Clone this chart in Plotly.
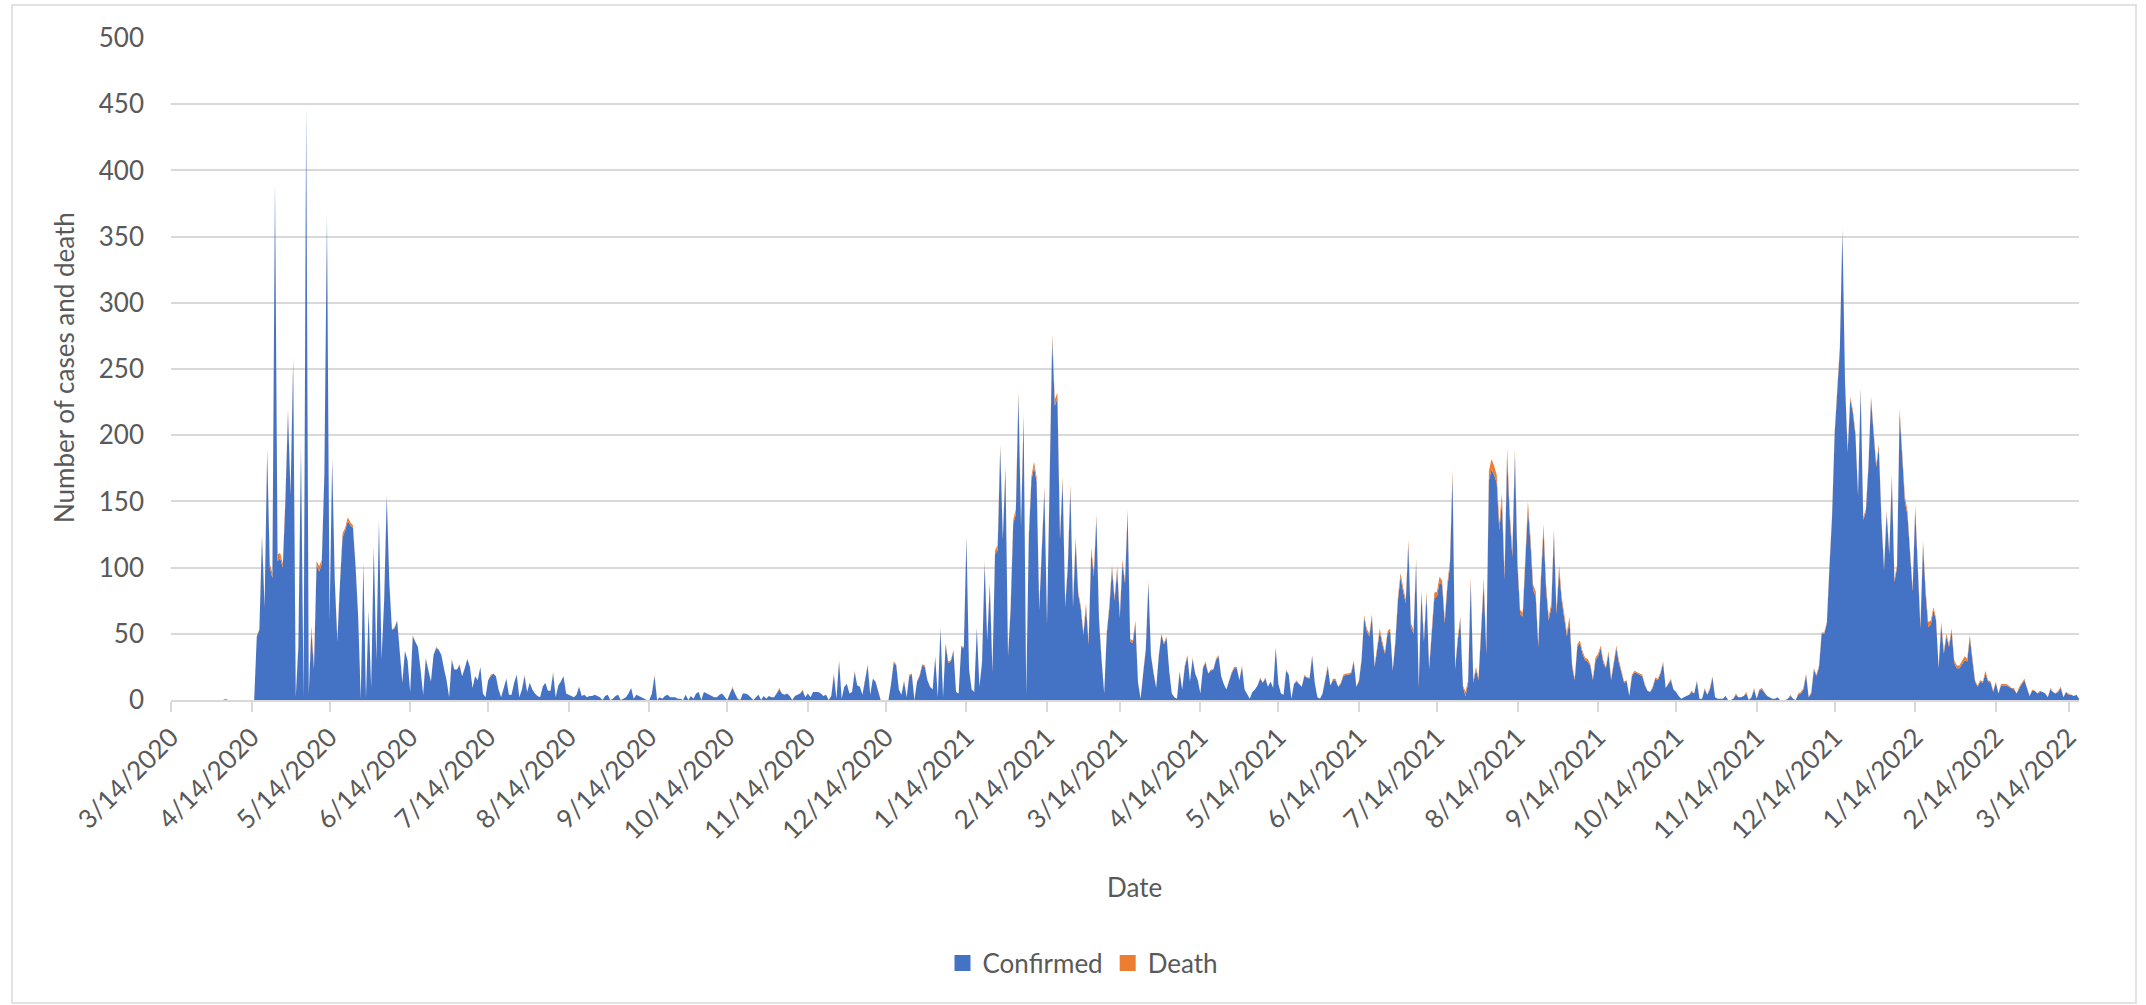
import plotly.graph_objects as go
import pandas as pd

start_date = "2020-03-14"

# Daily confirmed cases, one value per day from 3/14/2020
confirmed = [
    0, 0, 0, 0, 0, 0, 0, 0, 0, 0,
    0, 0, 0, 0, 0, 0, 0, 0, 0, 0,
    0, 0, 0, 0, 0, 0, 0, 0, 0, 0,
    0, 0, 0, 48, 53, 123, 70, 188, 100, 92,
    390, 105, 107, 100, 150, 217, 155, 256, 2, 40,
    191, 2, 448, 5, 52, 23, 102, 97, 103, 170,
    365, 60, 181, 90, 44, 88, 123, 128, 135, 132,
    130, 101, 63, 1, 103, 1, 67, 9, 115, 30,
    135, 31, 75, 154, 88, 53, 54, 60, 35, 13,
    37, 30, 6, 48, 44, 40, 23, 4, 31, 23,
    14, 34, 39, 38, 34, 24, 15, 2, 30, 23,
    23, 26, 18, 24, 31, 25, 9, 18, 15, 25,
    5, 2, 15, 18, 20, 18, 8, 2, 10, 16,
    4, 4, 13, 19, 2, 8, 18, 6, 13, 8,
    5, 3, 2, 10, 13, 7, 7, 20, 2, 11,
    14, 18, 5, 4, 3, 2, 4, 10, 3, 4,
    2, 3, 3, 4, 3, 2, 0, 3, 4, 0,
    1, 3, 4, 0, 1, 2, 5, 9, 1, 4,
    3, 2, 1, 0, 0, 5, 18, 0, 2, 1,
    3, 4, 2, 2, 2, 1, 1, 0, 4, 0,
    3, 1, 5, 6, 0, 6, 5, 4, 3, 2,
    2, 4, 5, 2, 0, 5, 9, 5, 1, 0,
    5, 5, 4, 2, 0, 2, 4, 0, 3, 1,
    3, 2, 2, 5, 8, 5, 4, 5, 3, 0,
    3, 4, 5, 7, 2, 5, 2, 6, 6, 6,
    5, 3, 4, 0, 3, 19, 1, 29, 1, 10,
    12, 5, 6, 21, 11, 10, 4, 14, 26, 4,
    16, 14, 6, 0, 0, 0, 0, 12, 28, 26,
    8, 4, 14, 2, 18, 19, 0, 14, 18, 26,
    25, 15, 10, 8, 32, 2, 54, 2, 42, 28,
    29, 37, 6, 5, 40, 39, 122, 23, 8, 6,
    54, 10, 28, 103, 45, 87, 21, 110, 113, 190,
    121, 174, 33, 68, 133, 140, 230, 131, 213, 4,
    123, 166, 176, 165, 68, 113, 157, 57, 160, 272,
    222, 228, 121, 165, 70, 100, 159, 70, 120, 80,
    69, 49, 70, 42, 112, 93, 137, 60, 30, 5,
    50, 70, 99, 75, 98, 62, 103, 88, 141, 44,
    43, 58, 13, 1, 20, 38, 88, 33, 20, 9,
    33, 49, 42, 47, 22, 5, 2, 1, 21, 8,
    25, 33, 14, 31, 20, 15, 5, 24, 28, 20,
    22, 23, 30, 33, 18, 12, 8, 14, 20, 24,
    24, 15, 25, 8, 4, 1, 6, 8, 11, 16,
    13, 16, 10, 14, 9, 39, 12, 5, 4, 22,
    19, 1, 12, 14, 12, 10, 18, 17, 16, 33,
    13, 2, 1, 5, 15, 25, 11, 15, 15, 10,
    12, 18, 19, 19, 20, 29, 10, 14, 30, 62,
    52, 48, 63, 25, 38, 52, 42, 35, 50, 52,
    22, 43, 75, 93, 82, 73, 117, 55, 50, 103,
    9, 80, 44, 79, 23, 50, 77, 78, 89, 87,
    58, 85, 101, 169, 23, 45, 60, 10, 3, 13,
    89, 13, 23, 15, 50, 88, 35, 166, 174, 170,
    164, 128, 150, 91, 184, 138, 108, 184, 101, 65,
    63, 100, 145, 118, 83, 78, 40, 90, 128, 83,
    60, 70, 125, 65, 98, 75, 63, 48, 60, 25,
    15, 40, 43, 35, 30, 29, 26, 15, 30, 33,
    39, 28, 24, 35, 15, 27, 39, 28, 20, 13,
    14, 3, 18, 21, 20, 19, 18, 11, 7, 6,
    9, 16, 15, 20, 28, 9, 12, 15, 8, 6,
    3, 1, 2, 3, 4, 6, 5, 14, 1, 1,
    8, 4, 8, 17, 2, 1, 1, 1, 3, 0,
    0, 1, 4, 2, 2, 3, 5, 0, 2, 8,
    1, 7, 8, 5, 3, 2, 1, 1, 2, 0,
    0, 0, 1, 3, 1, 0, 4, 5, 8, 19,
    2, 5, 23, 18, 25, 50, 50, 58, 100, 138,
    201, 229, 265, 354, 239, 187, 227, 217, 200, 154,
    234, 136, 142, 176, 227, 201, 176, 190, 136, 98,
    141, 110, 167, 89, 100, 217, 180, 150, 140, 110,
    82, 144, 103, 54, 117, 80, 55, 57, 68, 60,
    24, 57, 35, 48, 40, 52, 28, 24, 24, 27,
    30, 29, 47, 30, 14, 10, 14, 13, 20, 14,
    13, 6, 13, 5, 11, 11, 11, 10, 9, 8,
    5, 9, 12, 15, 9, 3, 7, 7, 5, 6,
    6, 5, 2, 8, 6, 5, 6, 9, 2, 6,
    4, 4, 3, 4, 1,
]

# Daily deaths, same days
death = [
    0, 0, 0, 0, 0, 0, 0, 0, 0, 0,
    0, 0, 0, 0, 0, 0, 0, 0, 0, 0,
    0, 1, 0, 0, 0, 0, 0, 0, 0, 0,
    0, 0, 0, 0, 1, 2, 1, 2, 3, 4,
    3, 5, 4, 3, 2, 3, 2, 3, 1, 2,
    2, 1, 3, 2, 4, 3, 3, 4, 3, 2,
    3, 2, 2, 1, 2, 1, 3, 2, 3, 2,
    2, 1, 1, 0, 1, 0, 1, 0, 1, 1,
    1, 0, 1, 1, 1, 0, 1, 0, 0, 1,
    0, 0, 0, 1, 0, 0, 0, 0, 1, 0,
    0, 0, 1, 0, 0, 0, 0, 0, 1, 0,
    0, 1, 0, 0, 0, 0, 0, 0, 0, 0,
    0, 0, 0, 1, 0, 0, 0, 0, 0, 0,
    0, 0, 0, 0, 0, 0, 1, 0, 0, 0,
    0, 0, 0, 0, 0, 0, 0, 1, 0, 0,
    0, 0, 0, 0, 0, 0, 0, 0, 0, 0,
    0, 0, 0, 0, 0, 0, 0, 0, 0, 0,
    0, 0, 0, 0, 0, 0, 0, 0, 0, 0,
    0, 0, 0, 0, 0, 0, 1, 0, 0, 0,
    0, 0, 0, 0, 0, 0, 0, 0, 0, 0,
    0, 0, 0, 0, 0, 0, 0, 0, 0, 0,
    0, 0, 0, 0, 0, 0, 1, 0, 0, 0,
    0, 0, 0, 0, 0, 0, 0, 0, 0, 0,
    0, 0, 0, 0, 1, 0, 0, 0, 0, 0,
    0, 0, 0, 1, 0, 0, 0, 0, 0, 0,
    0, 0, 0, 0, 0, 1, 0, 1, 0, 0,
    0, 0, 0, 1, 0, 0, 0, 0, 1, 0,
    0, 0, 0, 0, 0, 0, 0, 0, 1, 1,
    0, 0, 1, 0, 1, 1, 0, 0, 1, 1,
    1, 0, 0, 0, 1, 0, 1, 0, 1, 1,
    1, 1, 0, 0, 1, 1, 2, 1, 0, 0,
    1, 0, 1, 2, 1, 2, 1, 3, 4, 3,
    2, 3, 1, 2, 3, 4, 3, 2, 4, 0,
    3, 3, 4, 3, 2, 3, 4, 2, 3, 4,
    5, 4, 3, 4, 2, 3, 4, 3, 3, 2,
    2, 2, 3, 2, 3, 4, 3, 2, 1, 0,
    2, 2, 3, 2, 3, 2, 3, 2, 3, 2,
    2, 2, 1, 0, 1, 1, 2, 1, 1, 0,
    1, 1, 1, 1, 0, 0, 0, 0, 1, 0,
    1, 1, 0, 1, 0, 0, 0, 1, 1, 0,
    1, 0, 1, 1, 0, 0, 0, 0, 1, 1,
    1, 0, 1, 0, 0, 0, 0, 0, 0, 1,
    0, 1, 0, 0, 0, 1, 0, 0, 0, 1,
    0, 0, 0, 1, 0, 0, 1, 0, 1, 1,
    0, 0, 0, 0, 1, 1, 0, 1, 1, 0,
    1, 1, 1, 1, 1, 1, 0, 1, 1, 2,
    2, 2, 2, 1, 2, 2, 2, 1, 2, 2,
    1, 2, 3, 3, 3, 3, 4, 3, 3, 4,
    1, 3, 2, 3, 2, 3, 4, 4, 4, 3,
    3, 3, 4, 5, 2, 2, 3, 1, 3, 2,
    4, 2, 2, 2, 3, 4, 3, 7, 8, 7,
    6, 5, 6, 4, 6, 5, 4, 5, 4, 3,
    3, 4, 5, 5, 4, 4, 2, 4, 5, 4,
    3, 3, 4, 3, 4, 3, 3, 3, 3, 2,
    1, 2, 2, 2, 2, 2, 1, 1, 2, 2,
    2, 2, 1, 2, 1, 2, 2, 2, 1, 1,
    1, 0, 1, 1, 1, 1, 1, 1, 0, 0,
    1, 1, 1, 1, 1, 0, 1, 1, 0, 0,
    0, 0, 0, 0, 0, 1, 0, 1, 0, 0,
    1, 0, 1, 1, 0, 0, 0, 0, 0, 0,
    0, 0, 1, 0, 0, 0, 1, 0, 0, 1,
    0, 1, 1, 1, 0, 0, 0, 0, 0, 0,
    0, 0, 0, 1, 0, 0, 1, 1, 1, 1,
    0, 1, 1, 1, 1, 1, 1, 1, 2, 2,
    2, 2, 2, 2, 2, 2, 2, 2, 2, 2,
    2, 2, 2, 2, 2, 2, 2, 3, 2, 2,
    2, 2, 3, 2, 2, 3, 3, 4, 3, 2,
    2, 3, 2, 2, 3, 3, 4, 3, 2, 2,
    1, 2, 2, 2, 2, 2, 2, 2, 2, 3,
    3, 2, 2, 2, 1, 1, 1, 1, 2, 1,
    1, 1, 1, 0, 1, 1, 1, 1, 0, 1,
    0, 1, 1, 1, 0, 0, 1, 0, 0, 1,
    0, 0, 0, 1, 0, 0, 1, 1, 0, 0,
    1, 0, 0, 0, 0,
]

tick_labels = [
    "3/14/2020", "4/14/2020", "5/14/2020", "6/14/2020", "7/14/2020",
    "8/14/2020", "9/14/2020", "10/14/2020", "11/14/2020", "12/14/2020",
    "1/14/2021", "2/14/2021", "3/14/2021", "4/14/2021", "5/14/2021",
    "6/14/2021", "7/14/2021", "8/14/2021", "9/14/2021", "10/14/2021",
    "11/14/2021", "12/14/2021", "1/14/2022", "2/14/2022", "3/14/2022",
]
y_ticks = [0, 50, 100, 150, 200, 250, 300, 350, 400, 450, 500]

n = min(len(confirmed), len(death))
dates = pd.date_range(start_date, periods=n, freq="D")
tick_vals = [pd.to_datetime(t, format="%m/%d/%Y") for t in tick_labels]

BLUE = "#4472C4"
ORANGE = "#ED7D31"
GRID = "#D9D9D9"
TXT = "#595959"
FONT = "Lato"

fig = go.Figure()
fig.add_trace(go.Scatter(
    x=dates, y=confirmed[:n], name="Confirmed", mode="lines",
    stackgroup="one", line=dict(width=0, color=BLUE), fillcolor=BLUE,
    showlegend=False,
))
fig.add_trace(go.Scatter(
    x=dates, y=death[:n], name="Death", mode="lines",
    stackgroup="one", line=dict(width=0, color=ORANGE), fillcolor=ORANGE,
    showlegend=False,
))
# legend swatches
for nm, col in [("Confirmed", BLUE), ("Death", ORANGE)]:
    fig.add_trace(go.Scatter(
        x=[None], y=[None], mode="markers", name=nm,
        marker=dict(symbol="square", size=17, color=col),
    ))

W, H = 2146, 1005
L, R, T, B = 171, 2079, 38, 700
pw, ph = R - L, B - T

def px(x):
    return (x - L) / pw

def py(y):
    return (B - y) / ph

fig.update_layout(
    width=W, height=H,
    margin=dict(l=L, r=W - R, t=T, b=H - B),
    paper_bgcolor="white", plot_bgcolor="white",
    font=dict(family=FONT, size=26, color=TXT),
    showlegend=True,
    legend=dict(
        orientation="h", x=px(1083), y=py(963), xanchor="center", yanchor="middle",
        font=dict(family=FONT, size=26, color=TXT),
        itemwidth=30, tracegroupgap=0, traceorder="normal",
    ),
    xaxis=dict(
        type="date",
        range=[dates[0], dates[-1]],
        tickvals=tick_vals, ticktext=tick_labels,
        tickangle=-45,
        showgrid=False, zeroline=False,
        showline=True, linecolor=GRID, linewidth=1.5,
        ticks="outside", ticklen=10, tickcolor=GRID, tickwidth=1.5,
        tickfont=dict(family=FONT, size=26, color=TXT),
    ),
    yaxis=dict(
        range=[0, 500],
        tickvals=y_ticks,
        showgrid=True, gridcolor=GRID, gridwidth=1.5,
        zeroline=False, showline=False,
        ticks="", ticklabelstandoff=26,
        tickfont=dict(family=FONT, size=26, color=TXT),
    ),
    annotations=[
        dict(text="Number of cases and death", xref="paper", yref="paper",
             x=px(64), y=py(368), textangle=-90, showarrow=False,
             xanchor="center", yanchor="middle",
             font=dict(family=FONT, size=26, color=TXT)),
        dict(text="Date", xref="paper", yref="paper",
             x=px(1134), y=py(887), showarrow=False,
             xanchor="center", yanchor="middle",
             font=dict(family=FONT, size=26, color=TXT)),
    ],
    shapes=[
        dict(type="rect", xref="paper", yref="paper",
             x0=px(12), x1=px(2136), y0=py(1003), y1=py(5),
             line=dict(color=GRID, width=1.5), fillcolor="rgba(0,0,0,0)",
             layer="below"),
    ],
)

fig.write_html(
    "out.html",
    config={"displayModeBar": False},
    post_script="document.body.style.margin='0';document.body.style.overflow='hidden';",
)
